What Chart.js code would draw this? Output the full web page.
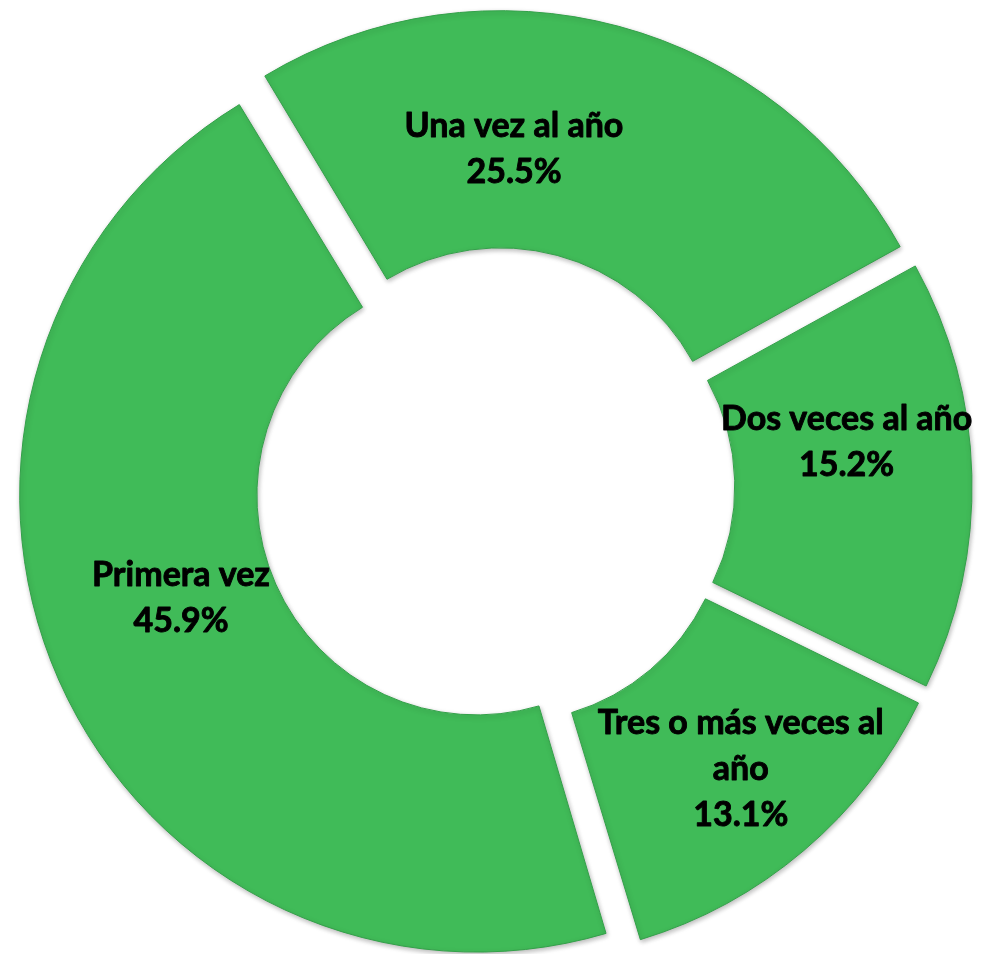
<!DOCTYPE html>
<html>
<head>
<meta charset="utf-8">
<script src="https://cdn.jsdelivr.net/npm/chart.js@4/dist/chart.umd.min.js"></script>
<style>
  html, body { margin: 0; padding: 0; background: #fff; }
  #wrap { width: 990px; height: 954px; }
</style>
</head>
<body>
<div id="wrap"><canvas id="chart"></canvas></div>
<script>
// ─── Data ────────────────────────────────────────────
var categories = ['Una vez al año', 'Dos veces al año', 'Tres o más veces al año', 'Primera vez'];
var percents   = [25.5, 15.2, 13.1, 45.9];
// how each category name is broken on the slice
var labelLines = [['Una vez al año'], ['Dos veces al año'], ['Tres o más veces al', 'año'], ['Primera vez']];

// ─── Look ────────────────────────────────────────────
var green = '#40bb58';
var explode = 80;             // chart.js shifts a slice by offset/4 -> 20px
var labelNudge = [[-74, 8], [-3, -36], [17, 13], [0, -28]];
var lineH = 46;

// chart.js also grows the radius of wide slices when offset is set;
// undo that so every slice is just pushed out, like an exploded pie
var flatOffset = {
  id: 'flatOffset',
  afterDatasetUpdate: function(chart, args) {
    args.meta.data.forEach(function(arc) {
      var grow = explode / 4 * (1 - Math.sin(Math.min(Math.PI, arc.circumference)));
      arc.outerRadius -= grow;
      arc.innerRadius -= grow;
    });
  }
};

var softShadow = {
  id: 'softShadow',
  beforeDatasetDraw: function(chart) {
    var ctx = chart.ctx;
    ctx.save();
    ctx.shadowColor = 'rgba(0,0,0,0.28)';
    ctx.shadowBlur = 5;
    ctx.shadowOffsetX = 1;
    ctx.shadowOffsetY = 2;
  },
  afterDatasetDraw: function(chart) {
    chart.ctx.restore();
  }
};

var sliceLabels = {
  id: 'sliceLabels',
  afterDatasetsDraw: function(chart) {
    var ctx = chart.ctx;
    var meta = chart.getDatasetMeta(0);
    ctx.save();
    ctx.font = 'bold 34px Lato';
    ctx.fillStyle = '#000';
    ctx.strokeStyle = '#000';
    ctx.lineWidth = 0.9;
    ctx.lineJoin = 'round';
    ctx.textAlign = 'center';
    ctx.textBaseline = 'alphabetic';
    meta.data.forEach(function(arc, i) {
      var mid = (arc.startAngle + arc.endAngle) / 2;
      var r = (arc.innerRadius + arc.outerRadius) / 2 + explode / 4;
      var cx = arc.x + Math.cos(mid) * r + labelNudge[i][0];
      var cy = arc.y + Math.sin(mid) * r + labelNudge[i][1];
      var lines = labelLines[i].concat([percents[i].toFixed(1) + '%']);
      lines.forEach(function(t, k) {
        var y = cy + (k - (lines.length - 1) / 2) * lineH + 11;
        ctx.fillText(t, cx, y);
        ctx.strokeText(t, cx, y);
      });
    });
    ctx.restore();
  }
};

// ─── Chart ───────────────────────────────────────────
new Chart(document.getElementById('chart').getContext('2d'), {
  type: 'doughnut',
  data: {
    labels: categories,
    datasets: [{
      data: percents,
      backgroundColor: green,
      borderColor: '#33a049',
      borderWidth: 1,
      offset: explode,
      hoverOffset: explode
    }]
  },
  options: {
    responsive: true,
    maintainAspectRatio: false,
    animation: false,
    events: [],
    rotation: -31,
    radius: 457,
    cutout: '48.1%',
    layout: { padding: { top: 20, bottom: 0, left: 0, right: 0 } },
    plugins: {
      legend: { display: false },
      tooltip: { enabled: false }
    }
  },
  plugins: [flatOffset, softShadow, sliceLabels]
});
</script>
</body>
</html>
